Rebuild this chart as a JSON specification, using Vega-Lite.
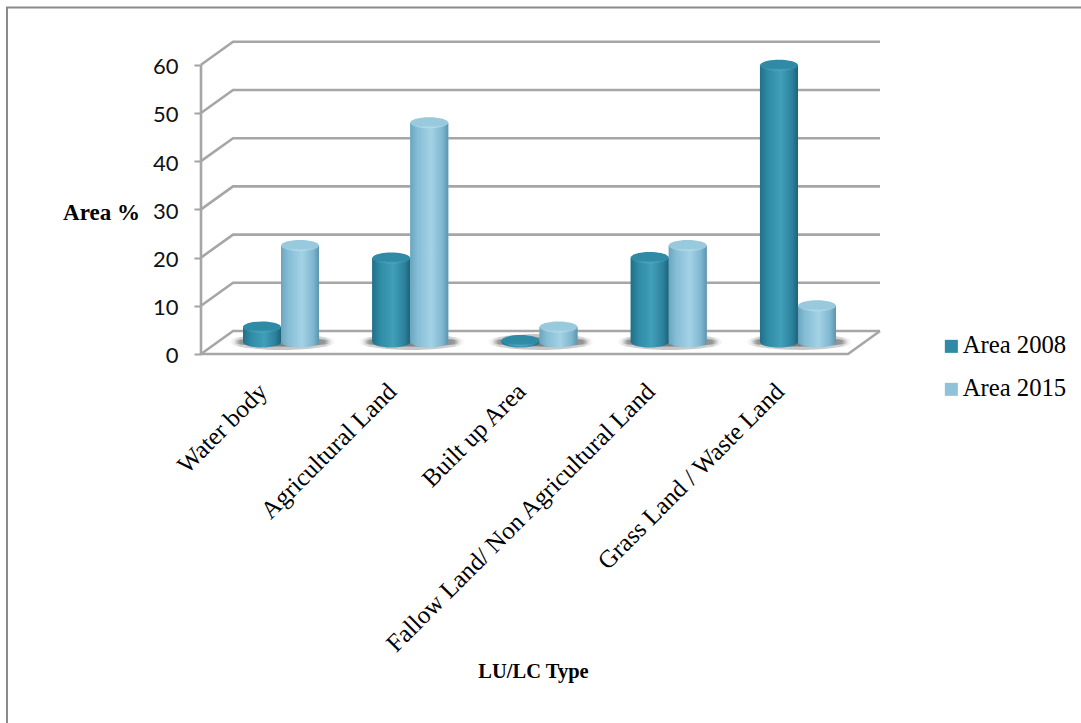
{
  "$schema": "https://vega.github.io/schema/vega-lite/v6.json",
  "width": 1081,
  "height": 723,
  "autosize": "none",
  "padding": 0,
  "background": "white",
  "config": {"view": {"stroke": null}},
  "datasets": {
    "areas": [
      {"category": "Water body", "series": "Area 2008", "value": 3.1},
      {"category": "Water body", "series": "Area 2015", "value": 20},
      {"category": "Agricultural Land", "series": "Area 2008", "value": 17.4},
      {"category": "Agricultural Land", "series": "Area 2015", "value": 45.5},
      {"category": "Built up Area", "series": "Area 2008", "value": 0.3},
      {"category": "Built up Area", "series": "Area 2015", "value": 3.1},
      {"category": "Fallow Land/ Non Agricultural Land", "series": "Area 2008", "value": 17.5},
      {"category": "Fallow Land/ Non Agricultural Land", "series": "Area 2015", "value": 20},
      {"category": "Grass Land / Waste Land", "series": "Area 2008", "value": 57.4},
      {"category": "Grass Land / Waste Land", "series": "Area 2015", "value": 7.5}
    ],
    "frame": [
      {"line": "sheet", "step": 0, "gx": -2.12, "gy": -76.56},
      {"line": "sheet", "step": 1, "gx": -2.12, "gy": 71.9},
      {"line": "sheet", "step": 2, "gx": 6.19, "gy": 71.9},
      {"line": "wall", "step": 0, "gx": -0.619, "gy": 0},
      {"line": "wall", "step": 1, "gx": -0.619, "gy": 60},
      {"line": "floor", "step": 0, "gx": -0.619, "gy": 0},
      {"line": "floor", "step": 1, "gx": 4.387, "gy": 0},
      {"line": "floor", "step": 2, "gx": 4.634, "gy": 4.77},
      {"line": "g0", "step": 0, "gx": -0.619, "gy": 0},
      {"line": "g0", "step": 1, "gx": -0.371, "gy": 4.77},
      {"line": "g0", "step": 2, "gx": 4.634, "gy": 4.77},
      {"line": "g10", "step": 0, "gx": -0.619, "gy": 10},
      {"line": "g10", "step": 1, "gx": -0.371, "gy": 14.77},
      {"line": "g10", "step": 2, "gx": 4.634, "gy": 14.77},
      {"line": "g20", "step": 0, "gx": -0.619, "gy": 20},
      {"line": "g20", "step": 1, "gx": -0.371, "gy": 24.77},
      {"line": "g20", "step": 2, "gx": 4.634, "gy": 24.77},
      {"line": "g30", "step": 0, "gx": -0.619, "gy": 30},
      {"line": "g30", "step": 1, "gx": -0.371, "gy": 34.77},
      {"line": "g30", "step": 2, "gx": 4.634, "gy": 34.77},
      {"line": "g40", "step": 0, "gx": -0.619, "gy": 40},
      {"line": "g40", "step": 1, "gx": -0.371, "gy": 44.77},
      {"line": "g40", "step": 2, "gx": 4.634, "gy": 44.77},
      {"line": "g50", "step": 0, "gx": -0.619, "gy": 50},
      {"line": "g50", "step": 1, "gx": -0.371, "gy": 54.77},
      {"line": "g50", "step": 2, "gx": 4.634, "gy": 54.77},
      {"line": "g60", "step": 0, "gx": -0.619, "gy": 60},
      {"line": "g60", "step": 1, "gx": -0.371, "gy": 64.77},
      {"line": "g60", "step": 2, "gx": 4.634, "gy": 64.77}
    ]
  },
  "resolve": {"scale": {"x": "independent"}, "axis": {"x": "independent"}},
  "layer": [
    {
      "data": {"name": "frame"},
      "encoding": {
        "x": {"field": "gx", "type": "quantitative", "axis": null, "scale": {"domain": [-2.174, 6.189], "nice": false, "zero": false}},
        "y": {
          "field": "gy",
          "type": "quantitative",
          "scale": {"domain": [-76.56, 73.44], "nice": false, "zero": false},
          "axis": {
            "values": [0, 10, 20, 30, 40, 50, 60],
            "offset": -201,
            "domain": false,
            "grid": false,
            "tickColor": "#a3a3a3",
            "tickSize": 7,
            "tickWidth": 2,
            "labelFont": "Lato",
            "labelFontSize": 22,
            "labelColor": "#111111",
            "labelPadding": 16,
            "labelOffset": 2,
            "title": "Area %",
            "titleFont": "Liberation Serif",
            "titleFontSize": 23,
            "titleFontWeight": "bold",
            "titleColor": "#000000",
            "titleAngle": 0,
            "titleAlign": "center",
            "titleBaseline": "middle",
            "titleX": -100,
            "titleY": 212
          }
        },
        "detail": {"field": "line"},
        "order": {"field": "step", "type": "quantitative"}
      },
      "layer": [
        {
          "transform": [{"filter": "datum.line === 'sheet'"}],
          "mark": {"type": "line", "color": "#8a8a8a", "strokeWidth": 2, "interpolate": "linear", "clip": false}
        },
        {
          "transform": [{"filter": "datum.line !== 'sheet'"}],
          "mark": {"type": "line", "color": "#a6a6a6", "strokeWidth": 2.6, "interpolate": "linear", "clip": false}
        }
      ]
    },
    {
      "data": {"name": "areas"},
      "encoding": {
        "x": {
          "field": "category",
          "type": "nominal",
          "sort": null,
          "scale": {"range": [216.4, 862.6], "paddingInner": 0, "paddingOuter": 0},
          "axis": {
            "orient": "bottom",
            "offset": -369,
            "domain": false,
            "ticks": false,
            "labelAngle": 315,
            "labelAlign": "right",
            "labelBaseline": "middle",
            "labelFont": "Liberation Serif",
            "labelFontSize": 25,
            "labelColor": "#000000",
            "labelPadding": 33,
            "labelOffset": -18,
            "labelLimit": 0,
            "labelOverlap": false,
            "title": "LU/LC Type",
            "titleFont": "Liberation Serif",
            "titleFontSize": 20.5,
            "titleFontWeight": "bold",
            "titleColor": "#000000",
            "titleAnchor": "start",
            "titleAlign": "center",
            "titleBaseline": "middle",
            "titleX": 533,
            "titleY": 317
          }
        },
        "xOffset": {
          "field": "series",
          "type": "nominal",
          "scale": {"domain": ["Area 2008", "Area 2015"], "paddingInner": 0, "paddingOuter": 0.7}
        }
      },
      "layer": [
        {
          "transform": [{"filter": "datum.series === 'Area 2008'"}],
          "mark": {
            "type": "point",
            "filled": true,
            "opacity": 0.6,
            "strokeWidth": 0,
            "shape": "M-1,0A1,0.15 0 1,1 1,0A1,0.15 0 1,1 -1,0Z",
            "size": 11200,
            "yOffset": -12,
            "fill": {
              "gradient": "radial",
              "x1": 0.5, "y1": 0.5, "r1": 0.1, "x2": 0.5, "y2": 0.5, "r2": 0.5,
              "stops": [
                {"offset": 0, "color": "#a0a0a0"},
                {"offset": 0.75, "color": "#b4b4b4"},
                {"offset": 1, "color": "#ffffff"}
              ]
            }
          },
          "encoding": {
            "xOffset": {"value": 66},
            "y": {"datum": 0}
          }
        },
        {
          "transform": [{"filter": "datum.series === 'Area 2008'"}],
          "mark": {
            "type": "point",
            "filled": true,
            "opacity": 0.95,
            "strokeWidth": 0,
            "shape": "M-1,0A1,0.09 0 1,1 1,0A1,0.09 0 1,1 -1,0Z",
            "size": 10000,
            "yOffset": -12,
            "fill": {
              "gradient": "radial",
              "x1": 0.5, "y1": 0.5, "r1": 0.1, "x2": 0.5, "y2": 0.5, "r2": 0.5,
              "stops": [
                {"offset": 0, "color": "#7c7c7c"},
                {"offset": 0.8, "color": "#929292"},
                {"offset": 1, "color": "#ffffff"}
              ]
            }
          },
          "encoding": {
            "xOffset": {"value": 66},
            "y": {"datum": 0}
          }
        },
        {
          "mark": {"type": "bar", "yOffset": -12, "y2Offset": -12, "orient": "vertical"},
          "encoding": {
            "y": {"field": "value", "type": "quantitative", "stack": null},
            "y2": {"datum": 0},
            "color": {
              "field": "series",
              "type": "nominal",
              "scale": {"domain": ["Area 2008", "Area 2015"], "range": ["#2f8aa6", "#8fc3da"]},
              "legend": {
                "orient": "none",
                "legendX": 939,
                "legendY": 334,
                "title": null,
                "symbolType": "square",
                "symbolSize": 170,
                "symbolStrokeWidth": 0,
                "labelFont": "Liberation Serif",
                "labelFontSize": 24.7,
                "labelColor": "#000000",
                "rowPadding": 17,
                "labelOffset": -1
              }
            }
          }
        },
        {
          "transform": [{"filter": "datum.series === 'Area 2008'"}],
          "mark": {
            "type": "bar", "yOffset": -12, "y2Offset": -12, "orient": "vertical",
            "fill": {"gradient": "linear", "x1": 0, "y1": 0, "x2": 1, "y2": 0, "stops": [
              {"offset": 0, "color": "#226f88"},
              {"offset": 0.2, "color": "#2f8aa5"},
              {"offset": 0.55, "color": "#419fba"},
              {"offset": 0.85, "color": "#2c819c"},
              {"offset": 1, "color": "#1c6379"}
            ]}
          },
          "encoding": {"y": {"field": "value", "type": "quantitative", "stack": null}, "y2": {"datum": 0}}
        },
        {
          "transform": [{"filter": "datum.series === 'Area 2008'"}],
          "mark": {
            "type": "point", "filled": true, "opacity": 1, "strokeWidth": 0,
            "shape": "M-1,0A1,0.29 0 1,1 1,0A1,0.29 0 1,1 -1,0Z",
            "size": 1444, "yOffset": -12,
            "fill": {"gradient": "linear", "x1": 0, "y1": 0, "x2": 1, "y2": 0, "stops": [
              {"offset": 0, "color": "#226f88"},
              {"offset": 0.2, "color": "#2f8aa5"},
              {"offset": 0.55, "color": "#419fba"},
              {"offset": 0.85, "color": "#2c819c"},
              {"offset": 1, "color": "#1c6379"}
            ]}
          },
          "encoding": {"y": {"datum": 0}}
        },
        {
          "transform": [{"filter": "datum.series === 'Area 2008'"}],
          "mark": {
            "type": "point", "filled": true, "opacity": 1, "strokeWidth": 0,
            "shape": "M-1,0A1,0.29 0 1,1 1,0A1,0.29 0 1,1 -1,0Z",
            "size": 1444, "yOffset": -12,
            "fill": {"gradient": "linear", "x1": 0, "y1": 0, "x2": 0, "y2": 1, "stops": [
              {"offset": 0, "color": "#2f8aa6"},
              {"offset": 0.75, "color": "#2f8aa6"},
              {"offset": 1, "color": "#4ea9c2"}
            ]}
          },
          "encoding": {"y": {"field": "value", "type": "quantitative"}}
        },
        {
          "transform": [{"filter": "datum.series === 'Area 2015'"}],
          "mark": {
            "type": "bar", "yOffset": -12, "y2Offset": -12, "orient": "vertical",
            "fill": {"gradient": "linear", "x1": 0, "y1": 0, "x2": 1, "y2": 0, "stops": [
              {"offset": 0, "color": "#6aa5bf"},
              {"offset": 0.2, "color": "#86bed6"},
              {"offset": 0.55, "color": "#a3d2e5"},
              {"offset": 0.85, "color": "#7fb6cf"},
              {"offset": 1, "color": "#5c93ad"}
            ]}
          },
          "encoding": {"y": {"field": "value", "type": "quantitative", "stack": null}, "y2": {"datum": 0}}
        },
        {
          "transform": [{"filter": "datum.series === 'Area 2015'"}],
          "mark": {
            "type": "point", "filled": true, "opacity": 1, "strokeWidth": 0,
            "shape": "M-1,0A1,0.29 0 1,1 1,0A1,0.29 0 1,1 -1,0Z",
            "size": 1444, "yOffset": -12,
            "fill": {"gradient": "linear", "x1": 0, "y1": 0, "x2": 1, "y2": 0, "stops": [
              {"offset": 0, "color": "#6aa5bf"},
              {"offset": 0.2, "color": "#86bed6"},
              {"offset": 0.55, "color": "#a3d2e5"},
              {"offset": 0.85, "color": "#7fb6cf"},
              {"offset": 1, "color": "#5c93ad"}
            ]}
          },
          "encoding": {"y": {"datum": 0}}
        },
        {
          "transform": [{"filter": "datum.series === 'Area 2015'"}],
          "mark": {
            "type": "point", "filled": true, "opacity": 1, "strokeWidth": 0,
            "shape": "M-1,0A1,0.29 0 1,1 1,0A1,0.29 0 1,1 -1,0Z",
            "size": 1444, "yOffset": -12,
            "fill": {"gradient": "linear", "x1": 0, "y1": 0, "x2": 0, "y2": 1, "stops": [
              {"offset": 0, "color": "#98c9dd"},
              {"offset": 0.75, "color": "#98c9dd"},
              {"offset": 1, "color": "#b6dded"}
            ]}
          },
          "encoding": {"y": {"field": "value", "type": "quantitative"}}
        }
      ]
    }
  ]
}
